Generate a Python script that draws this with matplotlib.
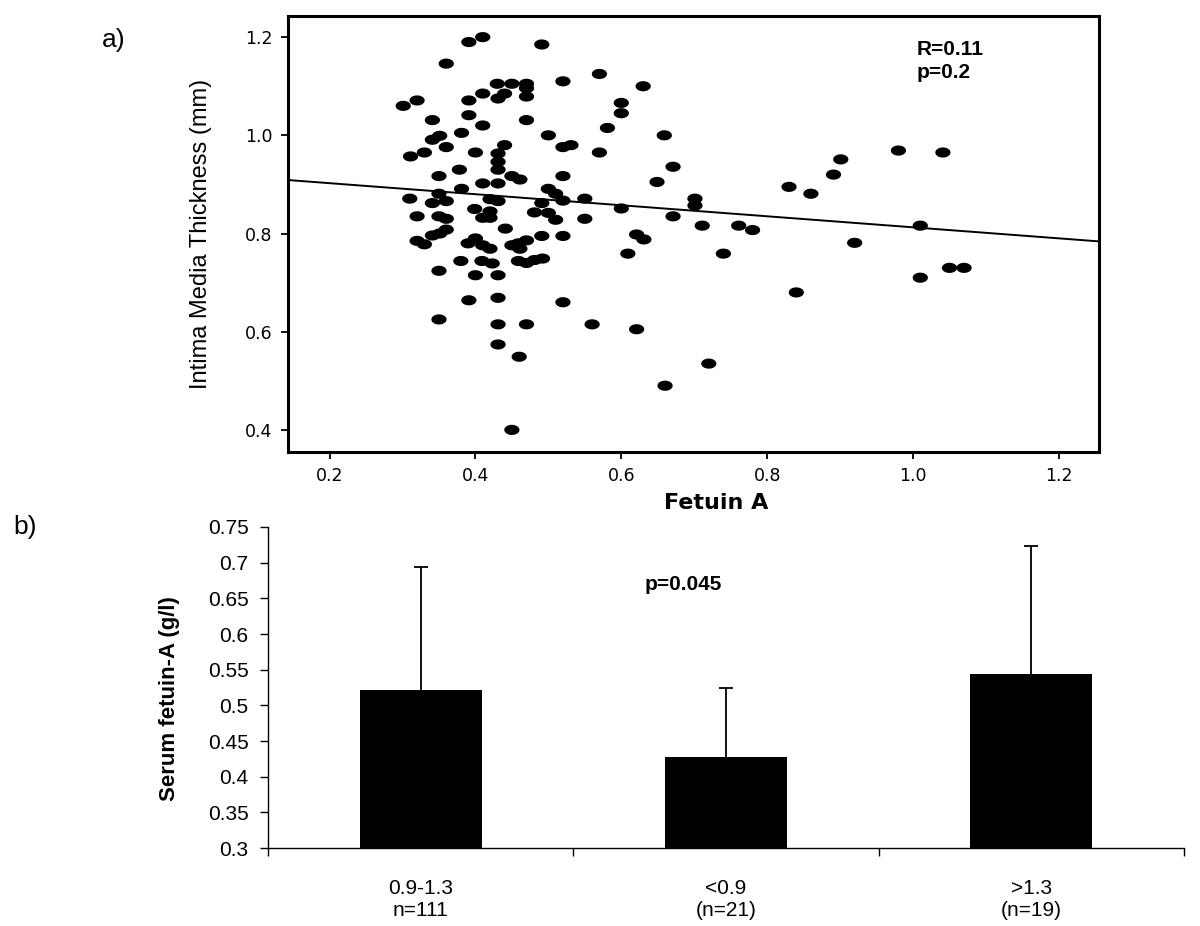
import numpy as np
import matplotlib.pyplot as plt
from matplotlib.path import Path
from matplotlib.ticker import FormatStrFormatter, FuncFormatter

plt.rcParams['font.family'] = ['Liberation Sans', 'DejaVu Sans']

# a) scatter: fetuin A vs intima media thickness (values read off the figure)
fetuin = [0.301, 0.320, 0.311, 0.330, 0.341, 0.341, 0.351, 0.360, 0.360, 0.391,
          0.410, 0.391, 0.391, 0.410, 0.410, 0.381, 0.400, 0.430, 0.431, 0.440,
          0.450, 0.470, 0.470, 0.470, 0.470, 0.491, 0.500, 0.520, 0.520, 0.531,
          0.440, 0.431, 0.431, 0.431, 0.450, 0.461, 0.378, 0.350, 0.410, 0.431,
          0.381, 0.520, 0.500, 0.510, 0.350, 0.310, 0.341, 0.360, 0.420, 0.431,
          0.491, 0.520, 0.320, 0.350, 0.360, 0.399, 0.420, 0.410, 0.420, 0.481,
          0.500, 0.510, 0.441, 0.320, 0.330, 0.341, 0.351, 0.360,
          0.390, 0.400, 0.410, 0.420, 0.450, 0.459, 0.461, 0.470, 0.491, 0.520,
          0.380, 0.409, 0.423, 0.459, 0.470, 0.481, 0.492, 0.350, 0.400, 0.431,
          0.391, 0.431, 0.520, 0.350, 0.431, 0.470, 0.431, 0.460, 0.450,
          0.570, 0.630, 0.600, 0.600, 0.581, 0.659, 0.570, 0.671, 0.649, 0.830,
          0.860, 0.891, 0.901, 0.980, 1.041, 0.550, 0.600, 0.701, 0.701, 0.550,
          0.671, 0.711, 0.761, 0.780, 0.621, 0.631, 1.010, 0.920,
          0.609, 0.740, 1.010, 1.050, 1.070, 0.840, 0.560, 0.621, 0.720, 0.660]
imt = [1.060, 1.071, 0.957, 0.965, 1.031, 0.991, 0.999, 1.146, 0.976, 1.190,
       1.200, 1.071, 1.041, 1.085, 1.020, 1.005, 0.965, 1.105, 1.075, 1.085,
       1.105, 1.105, 1.096, 1.079, 1.031, 1.185, 1.000, 1.110, 0.976, 0.980,
       0.980, 0.963, 0.946, 0.930, 0.917, 0.910, 0.930, 0.917, 0.902, 0.902,
       0.891, 0.917, 0.891, 0.881, 0.881, 0.871, 0.862, 0.866, 0.870, 0.866,
       0.862, 0.867, 0.835, 0.835, 0.830, 0.850, 0.845, 0.832, 0.832, 0.843,
       0.842, 0.828, 0.810, 0.785, 0.778, 0.796, 0.800, 0.808,
       0.780, 0.790, 0.776, 0.769, 0.776, 0.780, 0.769, 0.786, 0.795, 0.795,
       0.744, 0.744, 0.739, 0.744, 0.740, 0.746, 0.749, 0.724, 0.715, 0.715,
       0.664, 0.669, 0.660, 0.625, 0.615, 0.615, 0.574, 0.549, 0.400,
       1.125, 1.100, 1.066, 1.045, 1.015, 1.000, 0.965, 0.936, 0.905, 0.895,
       0.881, 0.920, 0.951, 0.969, 0.965, 0.871, 0.851, 0.871, 0.857, 0.830,
       0.835, 0.816, 0.816, 0.807, 0.798, 0.788, 0.816, 0.781,
       0.759, 0.759, 0.710, 0.730, 0.730, 0.680, 0.615, 0.605, 0.535, 0.490]
fit_intercept = 0.925
fit_slope = -0.1124
r_text = 'R=0.11\np=0.2'

# b) bars: serum fetuin-A by IMT group
groups = ['0.9-1.3\nn=111', '<0.9\n(n=21)', '>1.3\n(n=19)']
means = [0.521, 0.427, 0.544]
sd = [0.173, 0.098, 0.180]
p_text = 'p=0.045'

fig = plt.figure(figsize=(12, 9.26), dpi=100)

# ---- a) ----
ax1 = fig.add_axes([0.24, 0.5119, 0.6758, 0.4708])
t = np.linspace(0, 2 * np.pi, 80)
ellipse = Path(np.column_stack([1.5 * np.cos(t), np.sin(t)]))
ax1.scatter(fetuin, imt, s=120, marker=ellipse, color='black', edgecolors='none')
xl = np.array([0.143, 1.255])
ax1.plot(xl, fit_intercept + fit_slope * xl, color='black', lw=1.4)
ax1.set_xlim(0.143, 1.255)
ax1.set_ylim(0.355, 1.243)
ax1.set_xticks([0.2, 0.4, 0.6, 0.8, 1.0, 1.2])
ax1.set_yticks([0.4, 0.6, 0.8, 1.0, 1.2])
ax1.xaxis.set_major_formatter(FormatStrFormatter('%.1f'))
ax1.yaxis.set_major_formatter(FormatStrFormatter('%.1f'))
for s in ax1.spines.values():
    s.set_linewidth(2.2)
ax1.tick_params(length=5, width=1.3, pad=6, labelsize=12.5)
for lab in ax1.get_xticklabels() + ax1.get_yticklabels():
    lab.set_family('DejaVu Sans')
ax1.set_ylabel('Intima Media Thickness (mm)', fontsize=17)
ax1.yaxis.set_label_coords(-0.094, 0.5)
ax1.set_xlabel('Fetuin A', fontsize=16, fontweight='bold', family='DejaVu Sans')
ax1.xaxis.set_label_coords(0.528, -0.095)
ax1.text(0.7756, 0.945, r_text, transform=ax1.transAxes, ha='left', va='top',
         fontsize=15, fontweight='bold', linespacing=1.3)
fig.text(0.085, 0.97, 'a)', fontsize=19, va='top')

# ---- b) ----
ax2 = fig.add_axes([0.2233, 0.0842, 0.7633, 0.3467])
x = np.arange(len(groups))
ax2.errorbar(x, means, yerr=sd, fmt='none', ecolor='black',
             elinewidth=1.3, capsize=5, capthick=1.3, zorder=2)
ax2.bar(x, means, width=0.4, color='black', zorder=3)
ax2.set_xlim(-0.5, 2.5)
ax2.set_ylim(0.3, 0.75)
ax2.set_yticks(np.arange(0.3, 0.76, 0.05))
ax2.yaxis.set_major_formatter(FuncFormatter(lambda v, pos: f'{round(v, 2):g}'))
ax2.set_xticks([-0.5, 0.5, 1.5, 2.5])
ax2.set_xticklabels([])
ax2.set_xticks(x, minor=True)
ax2.set_xticklabels(groups, minor=True)
ax2.tick_params(axis='x', which='minor', length=0, pad=22, labelsize=15)
ax2.tick_params(axis='x', which='major', length=6, width=1)
ax2.tick_params(axis='y', length=6, width=1, pad=8, labelsize=15)
ax2.spines['top'].set_visible(False)
ax2.spines['right'].set_visible(False)
ax2.spines['left'].set_linewidth(1)
ax2.spines['bottom'].set_linewidth(1)
ax2.set_ylabel('Serum fetuin-A (g/l)', fontsize=16, fontweight='bold')
ax2.yaxis.set_label_coords(-0.096, 0.467)
ax2.text(0.86, 0.67, p_text, ha='center', va='center', fontsize=15, fontweight='bold')
fig.text(0.011, 1 - 515 / 926, 'b)', fontsize=19, va='top')

fig.savefig('out.png', dpi=100)
